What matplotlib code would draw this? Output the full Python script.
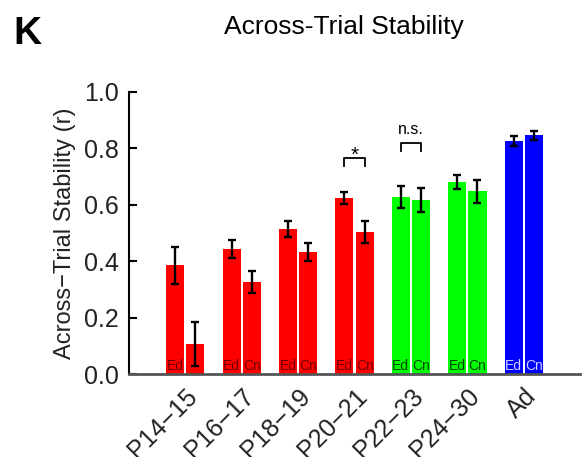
import matplotlib
matplotlib.use("Agg")
import matplotlib.pyplot as plt
import numpy as np

plt.rcParams['font.family'] = ['Liberation Sans', 'DejaVu Sans']

groups = ["P14\u221215", "P16\u221217", "P18\u221219", "P20\u221221", "P22\u221223", "P24\u221230", "Ad"]
ed_vals = [0.385, 0.443, 0.514, 0.623, 0.627, 0.681, 0.826]
ed_err = [0.065, 0.033, 0.027, 0.021, 0.038, 0.026, 0.019]
cn_vals = [0.108, 0.326, 0.432, 0.503, 0.616, 0.648, 0.847]
cn_err = [0.078, 0.038, 0.031, 0.039, 0.042, 0.040, 0.016]
group_colors = ["#ff0000", "#ff0000", "#ff0000", "#ff0000", "#00ff00", "#00ff00", "#0000ff"]
label_colors = ["#6e0000", "#6e0000", "#6e0000", "#6e0000", "#004400", "#004400", "#cfcfff"]
show_cn_label = [False, True, True, True, True, True, True]
sig_groups = [3, 4]
sig_texts = ["*", "n.s."]
sig_heights = [0.766, 0.819]

fig = plt.figure(figsize=(5.86, 4.57), dpi=100)
ax = fig.add_axes([0.220, 0.1816, 0.770, 0.6171])

x = np.arange(1, len(groups) + 1)
off = 0.18
w = 0.32
ax.bar(x - off, ed_vals, width=w, color=group_colors, zorder=2)
ax.bar(x + off, cn_vals, width=w, color=group_colors, zorder=2)
ax.errorbar(x - off, ed_vals, yerr=ed_err, fmt='none', ecolor='black', elinewidth=1.7,
            capsize=2.6, capthick=1.7, zorder=3)
ax.errorbar(x + off, cn_vals, yerr=cn_err, fmt='none', ecolor='black', elinewidth=1.7,
            capsize=2.6, capthick=1.7, zorder=3)

for i in range(len(groups)):
    ax.text(x[i] - off, 0.013, "Ed", ha='center', va='baseline', fontsize=10,
            color=label_colors[i], zorder=4)
    if show_cn_label[i]:
        ax.text(x[i] + off, 0.013, "Cn", ha='center', va='baseline', fontsize=10,
                color=label_colors[i], zorder=4)

for g, t, h in zip(sig_groups, sig_texts, sig_heights):
    xl = x[g] - off
    xr = x[g] + off
    ax.plot([xl, xl, xr, xr], [h - 0.028, h, h, h - 0.028], color='black', lw=1.3, zorder=4)
    if t == "*":
        ax.text(x[g], h - 0.011, t, ha='center', va='baseline', fontsize=15)
    else:
        ax.text(x[g], h + 0.032, t, ha='center', va='baseline', fontsize=11.5)

ax.set_xlim(0, 8)
ax.set_ylim(0, 1.0)
ax.set_yticks([0, 0.2, 0.4, 0.6, 0.8, 1.0])
ax.set_yticklabels(["0.0", "0.2", "0.4", "0.6", "0.8", "1.0"])
ax.set_xticks(x)
ax.set_xticklabels(groups, rotation=45, ha='right', va='top', rotation_mode='anchor')
ax.tick_params(axis='x', length=0, pad=7, labelsize=18, colors='#222222')
ax.tick_params(axis='y', direction='in', length=6, width=1.5, labelsize=18, pad=7,
               labelcolor='#222222')
for s in ['top', 'right']:
    ax.spines[s].set_visible(False)
ax.spines['left'].set_linewidth(1.5)
ax.spines['bottom'].set_linewidth(2)
ax.spines['bottom'].set_color('#555555')
ax.set_ylabel("Across\u2212Trial Stability (r)", fontsize=17, color='#222222', labelpad=6)

fig.text(0.586, 0.9256, "Across-Trial Stability", ha='center', va='baseline', fontsize=19)
fig.text(0.022, 0.9037, "K", ha='left', va='baseline', fontsize=28, fontweight='bold')

fig.savefig("out.png", dpi=100)
